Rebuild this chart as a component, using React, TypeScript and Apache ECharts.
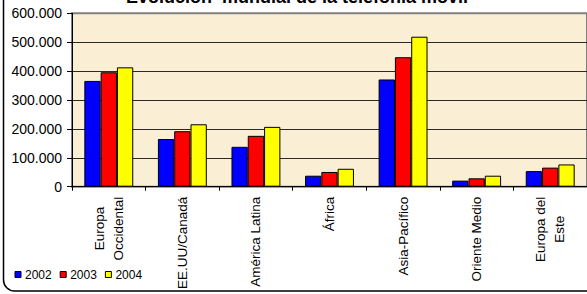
import React, { useEffect, useRef } from "react";
import * as echarts from "echarts";

const categories = [
  "Europa\nOccidental",
  "EE.UU/Canadá",
  "América Latina",
  "África",
  "Asia-Pacífico",
  "Oriente Medio",
  "Europa del\nEste",
];
const seriesNames = ["2002", "2003", "2004"];
const values2002 = [366000, 165000, 138000, 38000, 371000, 21000, 54000];
const values2003 = [396000, 192000, 176000, 51000, 448000, 29000, 66000];
const values2004 = [413000, 216000, 207000, 62000, 519000, 38000, 77000];
const yTicks = { min: 0, max: 600000, interval: 100000 };
const titleText = "Evolución  mundial de la telefonía móvil";

const FONT = "'Liberation Sans', Arial, sans-serif";
const colors = ["#0000FF", "#FF0000", "#FFFF00"];

function fmt(v: number): string {
  return String(v).replace(/\B(?=(\d{3})+(?!\d))/g, ".");
}

export default function App() {
  const ref = useRef<HTMLDivElement>(null);
  useEffect(() => {
    if (!ref.current) return;
    const chart = echarts.init(ref.current, null, { renderer: "svg" });
    const data = [values2002, values2003, values2004];
    chart.setOption({
      animation: false,
      backgroundColor: "#ffffff",
      textStyle: { fontFamily: FONT },
      graphic: [
        {
          type: "rect",
          shape: { x: 3.5, y: -30, width: 700, height: 321, r: 11 },
          style: { fill: "none", stroke: "#000", lineWidth: 1.5 },
        },
        {
          type: "text",
          x: 297,
          y: -3.3,
          style: {
            text: titleText,
            fontFamily: FONT,
            fontSize: 18,
            fontWeight: "bold",
            fill: "#000",
            align: "center",
            verticalAlign: "middle",
          },
        },
      ],
      legend: {
        left: 14.5,
        top: 268.5,
        padding: 0,
        itemWidth: 6,
        itemHeight: 6,
        itemGap: 8,
        icon: "rect",
        data: seriesNames,
        itemStyle: { borderColor: "#000", borderWidth: 1 },
        textStyle: { fontFamily: FONT, fontSize: 12, color: "#000", padding: [0, 0, 0, -1] },
      },
      grid: {
        left: 72,
        top: 13.3,
        width: 515.7,
        height: 173.4,
        show: true,
        backgroundColor: "#FAEED5",
        borderColor: "#808080",
        borderWidth: 2,
        containLabel: false,
      },
      xAxis: {
        type: "category",
        data: categories,
        boundaryGap: true,
        axisLine: { show: true, lineStyle: { color: "#000", width: 1 } },
        axisTick: { show: true, length: 4, lineStyle: { color: "#000" } },
        axisLabel: {
          interval: 0,
          rotate: 90,
          margin: 10,
          formatter: (v: string) =>
            v
              .split("\n")
              .map((s) => `{c|${s}}`)
              .join("\n"),
          rich: {
            c: {
              align: "center",
              fontFamily: FONT,
              fontSize: 13.5,
              lineHeight: 19.5,
              color: "#000",
            },
          },
        },
      },
      yAxis: {
        type: "value",
        min: yTicks.min,
        max: yTicks.max,
        interval: yTicks.interval,
        axisLine: { show: true, lineStyle: { color: "#000", width: 1 } },
        axisTick: { show: true, length: 5, lineStyle: { color: "#000" } },
        axisLabel: {
          margin: 10,
          fontFamily: FONT,
          fontSize: 14,
          color: "#000",
          formatter: (v: number) => fmt(v),
        },
        splitLine: {
          show: true,
          lineStyle: {
            color: ["#2a2a2a", "#2a2a2a", "#2a2a2a", "#2a2a2a", "#2a2a2a", "#2a2a2a", "#808080"],
            width: 1,
          },
        },
      },
      series: seriesNames.map((name, i) => ({
        name,
        type: "bar",
        data: data[i],
        barWidth: 16.3,
        barGap: "0%",
        itemStyle: { color: colors[i], borderColor: "#000", borderWidth: 1 },
      })),
    });
    return () => chart.dispose();
  }, []);
  return (
    <div
      ref={ref}
      style={{ position: "absolute", left: 0, top: 0, width: 587, height: 294 }}
    />
  );
}
